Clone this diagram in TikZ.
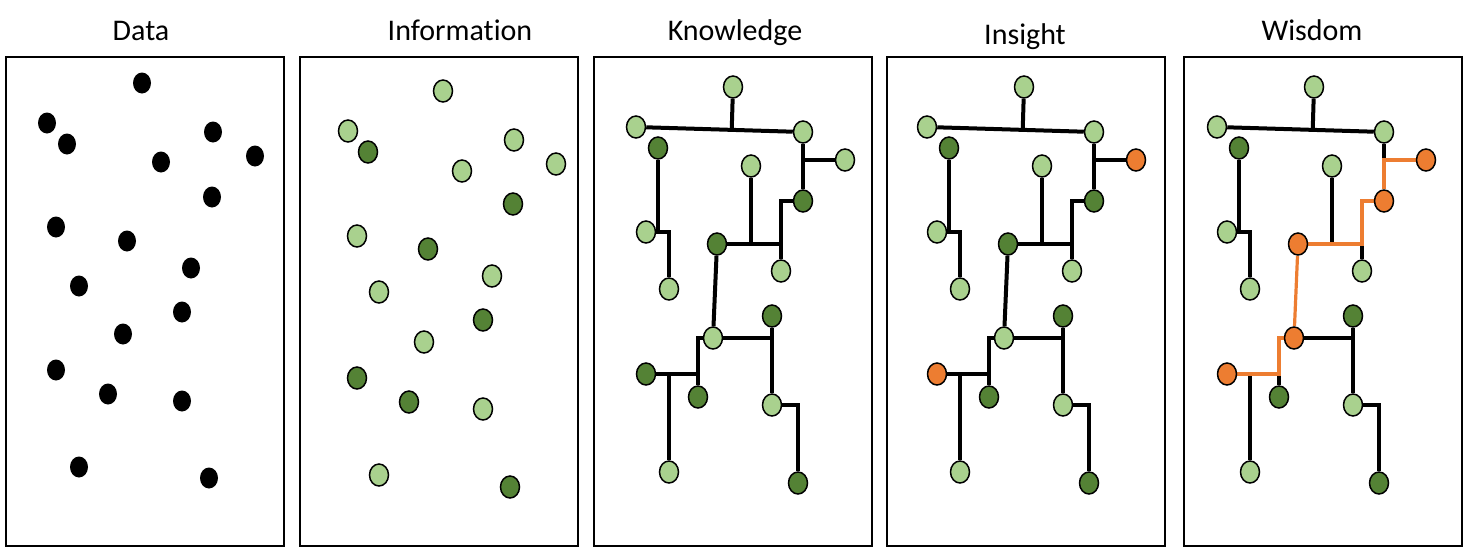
\documentclass[tikz,border=0pt]{standalone}
\usepackage{fontspec}
\setmainfont{Carlito}[Ligatures=NoCommon]
\usepackage{xcolor}
\usepackage{tikz}
\usetikzlibrary{shapes.geometric}
\usetikzlibrary{calc, backgrounds}
\definecolor{lgreen}{HTML}{A9D18E}
\definecolor{dgreen}{HTML}{548235}
\definecolor{orng}{HTML}{ED7D31}

\begin{document}
\begin{tikzpicture}[x=0.5pt, y=-0.5pt,
  title/.style={anchor=base, font=\fontsize{15}{18}\selectfont},
  frame/.style={draw, line width=1.25pt},
  dot/.style={ellipse, fill=black, inner sep=0pt, minimum width=9pt, minimum height=10.5pt},
  leaf/.style={ellipse, draw, line width=0.75pt, fill=#1, inner sep=0pt, minimum width=9.5pt, minimum height=11pt},
  tie/.style={line width=2pt}]
\useasboundingbox (0,0) rectangle (1472,558);

\node[title] (tdata) at (141,40) {Data};
\node[title] (tinfo) at (460,40) {Information};
\node[title] (tknow) at (735,40) {Knowledge};
\node[title] (tinsi) at (1025,44) {Insight};
\node[title] (twisd) at (1312,40) {Wisdom};

\foreach \x in {6,300,594,887,1184}
  \draw[frame] (\x,57) rectangle ++(278,489);

% data
\foreach \x/\y [count=\i] in {142/83, 47/123, 67/144, 213/132, 161/162, 255/156,
    212/197, 56/227, 127/241, 191/268, 79/286, 182/312, 123/334, 56/370,
    108/394, 182/401, 79/467, 209/478}
  \node[dot] (dat\i) at (\x,\y) {};

% information
\foreach \x/\y/\c [count=\i] in {443/91/lgreen, 348/131/lgreen, 368/152/dgreen,
    514/140/lgreen, 462/171/lgreen, 556/164/lgreen, 513/204/dgreen, 357/236/lgreen,
    428/249/dgreen, 492/276/lgreen, 379/292/lgreen, 483/320/dgreen, 424/342/lgreen,
    357/378/dgreen, 409/402/dgreen, 483/409/lgreen, 379/475/lgreen, 510/487/dgreen}
  \node[leaf=\c] (inf\i) at (\x,\y) {};

% knowledge, insight, wisdom
\foreach \p/\dx/\cfr/\cb/\cd/\ch/\ci/\hc/\hw in {
    K/0/lgreen/dgreen/dgreen/lgreen/dgreen/black/2pt,
    S/291/orng/dgreen/dgreen/lgreen/orng/black/2pt,
    W/581/orng/orng/orng/orng/orng/orng/1.6pt}{
  \begin{scope}[shift={(\dx,0)}]
    \node[leaf=lgreen] (\p t) at (733,87) {};
    \node[leaf=lgreen] (\p l) at (636,127) {};
    \node[leaf=lgreen] (\p r) at (803,132) {};
    \node[leaf=\cfr] (\p fr) at (845,160) {};
    \node[leaf=dgreen] (\p a) at (658,148) {};
    \node[leaf=lgreen] (\p m) at (751,166) {};
    \node[leaf=\cb] (\p b) at (803,201) {};
    \node[leaf=lgreen] (\p c) at (646,232) {};
    \node[leaf=\cd] (\p d) at (717,244) {};
    \node[leaf=lgreen] (\p e) at (781,271) {};
    \node[leaf=lgreen] (\p f) at (669,289) {};
    \node[leaf=dgreen] (\p g) at (772,316) {};
    \node[leaf=\ch] (\p h) at (713,338) {};
    \node[leaf=\ci] (\p i) at (646,374) {};
    \node[leaf=dgreen] (\p j) at (698,397) {};
    \node[leaf=lgreen] (\p k) at (772,405) {};
    \node[leaf=lgreen] (\p n) at (669,472) {};
    \node[leaf=dgreen] (\p o) at (798,483) {};
    \begin{scope}[on background layer]
      \draw[tie] (\p l) -- (\p r);
      \draw[tie] (\p t) -- ($(\p l)!(\p t)!(\p r)$);
      \draw[tie] (\p r) -- (\p r |- \p fr);
      \draw[tie] (\p a) -- (\p a |- \p c);
      \draw[tie] (\p c) -- (\p c -| \p f) -- (\p f);
      \draw[tie] (\p m) -- (\p m |- \p d);
      \draw[tie] (\p d -| \p e) -- (\p e);
      \draw[tie] (\p h) -- (\p h -| \p g);
      \draw[tie] (\p g) -- (\p k);
      \draw[tie] (\p k) -- (\p k -| \p o) -- (\p o);
      \draw[tie] (\p i -| \p j) -- (\p j);
      \draw[tie] (\p i -| \p n) -- (\p n);
      % the way through
      \draw[tie, draw=\hc, line width=\hw] (\p b) -- (\p b |- \p fr) -- (\p fr);
      \draw[tie, draw=\hc, line width=\hw] (\p d) -- (\p d -| \p e) -- (\p b -| \p e) -- (\p b);
      \draw[tie, draw=\hc, line width=\hw] (\p d) -- (\p h);
      \draw[tie, draw=\hc, line width=\hw] (\p i) -- (\p i -| \p j) -- (\p h -| \p j) -- (\p h);
    \end{scope}
  \end{scope}
}
\end{tikzpicture}
\end{document}
